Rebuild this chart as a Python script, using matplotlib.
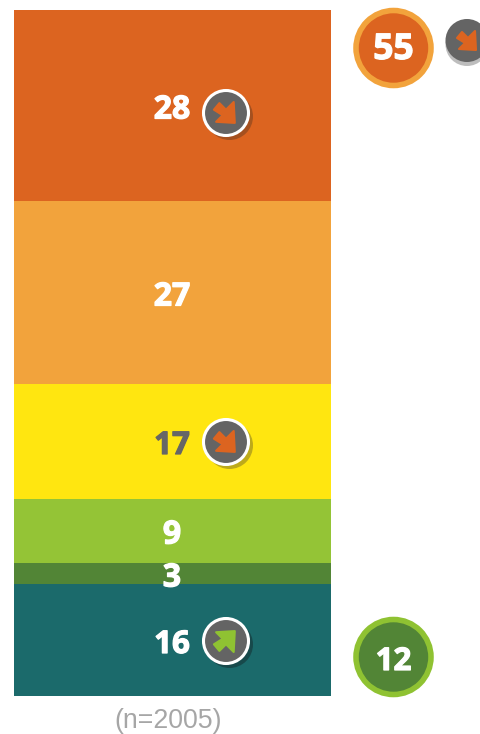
import matplotlib
matplotlib.use("Agg")
import matplotlib.pyplot as plt
import matplotlib.patheffects as pe
from matplotlib.patches import Circle, Polygon
import numpy as np

W, H = 480, 734
labels = ["28", "27", "17", "9", "3", "16"]
values = [27.9, 26.7, 16.8, 9.2, 3.2, 16.2]
colors = ["#DC6420", "#F2A33C", "#FFE610", "#94C436", "#528536", "#1B6A6B"]
label_colors = ["white", "white", "#666666", "white", "white", "white"]
label_y = [110, 297, 446, 535, 578, 645]
label_size = [23, 23, 22.5, 23, 23, 22.5]
n_text = "(n=2005)"
net_top, net_bottom = "55", "12"
ORANGE, AMBER, GREEN, DGREEN = "#DC6420", "#F2A33C", "#8FC232", "#528536"
GREY = "#646464"

fig = plt.figure(figsize=(W/100, H/100), dpi=100, facecolor="white")

# stacked bar
ax = fig.add_axes([14/W, 1-695.5/H, 317/W, 685.5/H])
ax.set_xlim(0, 1); ax.set_ylim(sum(values), 0); ax.axis("off")
bottom = 0
for v, c in zip(values, colors):
    ax.bar(0.5, v, width=1, bottom=bottom, color=c, linewidth=0)
    bottom += v

# overlay in pixel coordinates
ov = fig.add_axes([0, 0, 1, 1], zorder=5)
ov.set_xlim(0, W); ov.set_ylim(H, 0); ov.axis("off"); ov.patch.set_alpha(0)

FONT = "Open Sans"
stroke = lambda c, w=0.9: [pe.withStroke(linewidth=w, foreground=c)]
for t, y, c, s in zip(labels, label_y, label_colors, label_size):
    ov.text(172, y, t, color=c, fontsize=s, fontweight="bold", family=FONT,
            ha="center", va="center", path_effects=stroke(c), zorder=6)

ARROW = np.array([(-11, -3), (-6, -9), (0, -3), (7, -10), (8, 9), (-9, 8), (-3, 2)], float)

def arrow(cx, cy, col, up=False, scale=1.1):
    pts = ARROW * scale
    if up:
        pts = pts * np.array([1, -1])
    ov.add_patch(Polygon(pts + [cx, cy], closed=True, fc=col, ec=col, lw=1.5, joinstyle="round", zorder=9))

def badge(cx, cy, col, shadow, up=False):
    ov.add_patch(Circle((cx+3.5, cy+3.5), 23.5, fc=shadow, ec="none", zorder=7))
    ov.add_patch(Circle((cx, cy), 22.5, fc=GREY, ec="white", lw=2.2, zorder=8))
    arrow(cx, cy, col, up)

badge(226, 113, ORANGE, "#A5501F")
badge(226, 442, ORANGE, "#BDAA1A")
badge(226, 641, GREEN, "#17494B", up=True)

# small badge, top right
ov.add_patch(Circle((467, 44.5), 21.5, fc="#BDBDBD", ec="none", zorder=7))
ov.add_patch(Circle((467, 40.5), 21.5, fc=GREY, ec="none", zorder=8))
arrow(468, 41, ORANGE, scale=1.0)

def net(cx, cy, ty, t, fs, fc, ring):
    ov.add_patch(Circle((cx, cy), 37.5, fc=fc, ec=ring, lw=4.0, zorder=7))
    ov.text(cx, ty, t, color="white", fontsize=fs, fontweight="bold", family=FONT,
            ha="center", va="center", path_effects=stroke("white"), zorder=8)

net(393.5, 48, 50, net_top, 25.5, ORANGE, AMBER)
net(393.5, 657, 662, net_bottom, 22.5, DGREEN, GREEN)

ov.text(168.5, 720.5, n_text, color="#A6A6A6", fontsize=19.3, family="Liberation Sans",
        ha="center", va="center", zorder=6)

fig.savefig("out.png", dpi=100, facecolor="white")
